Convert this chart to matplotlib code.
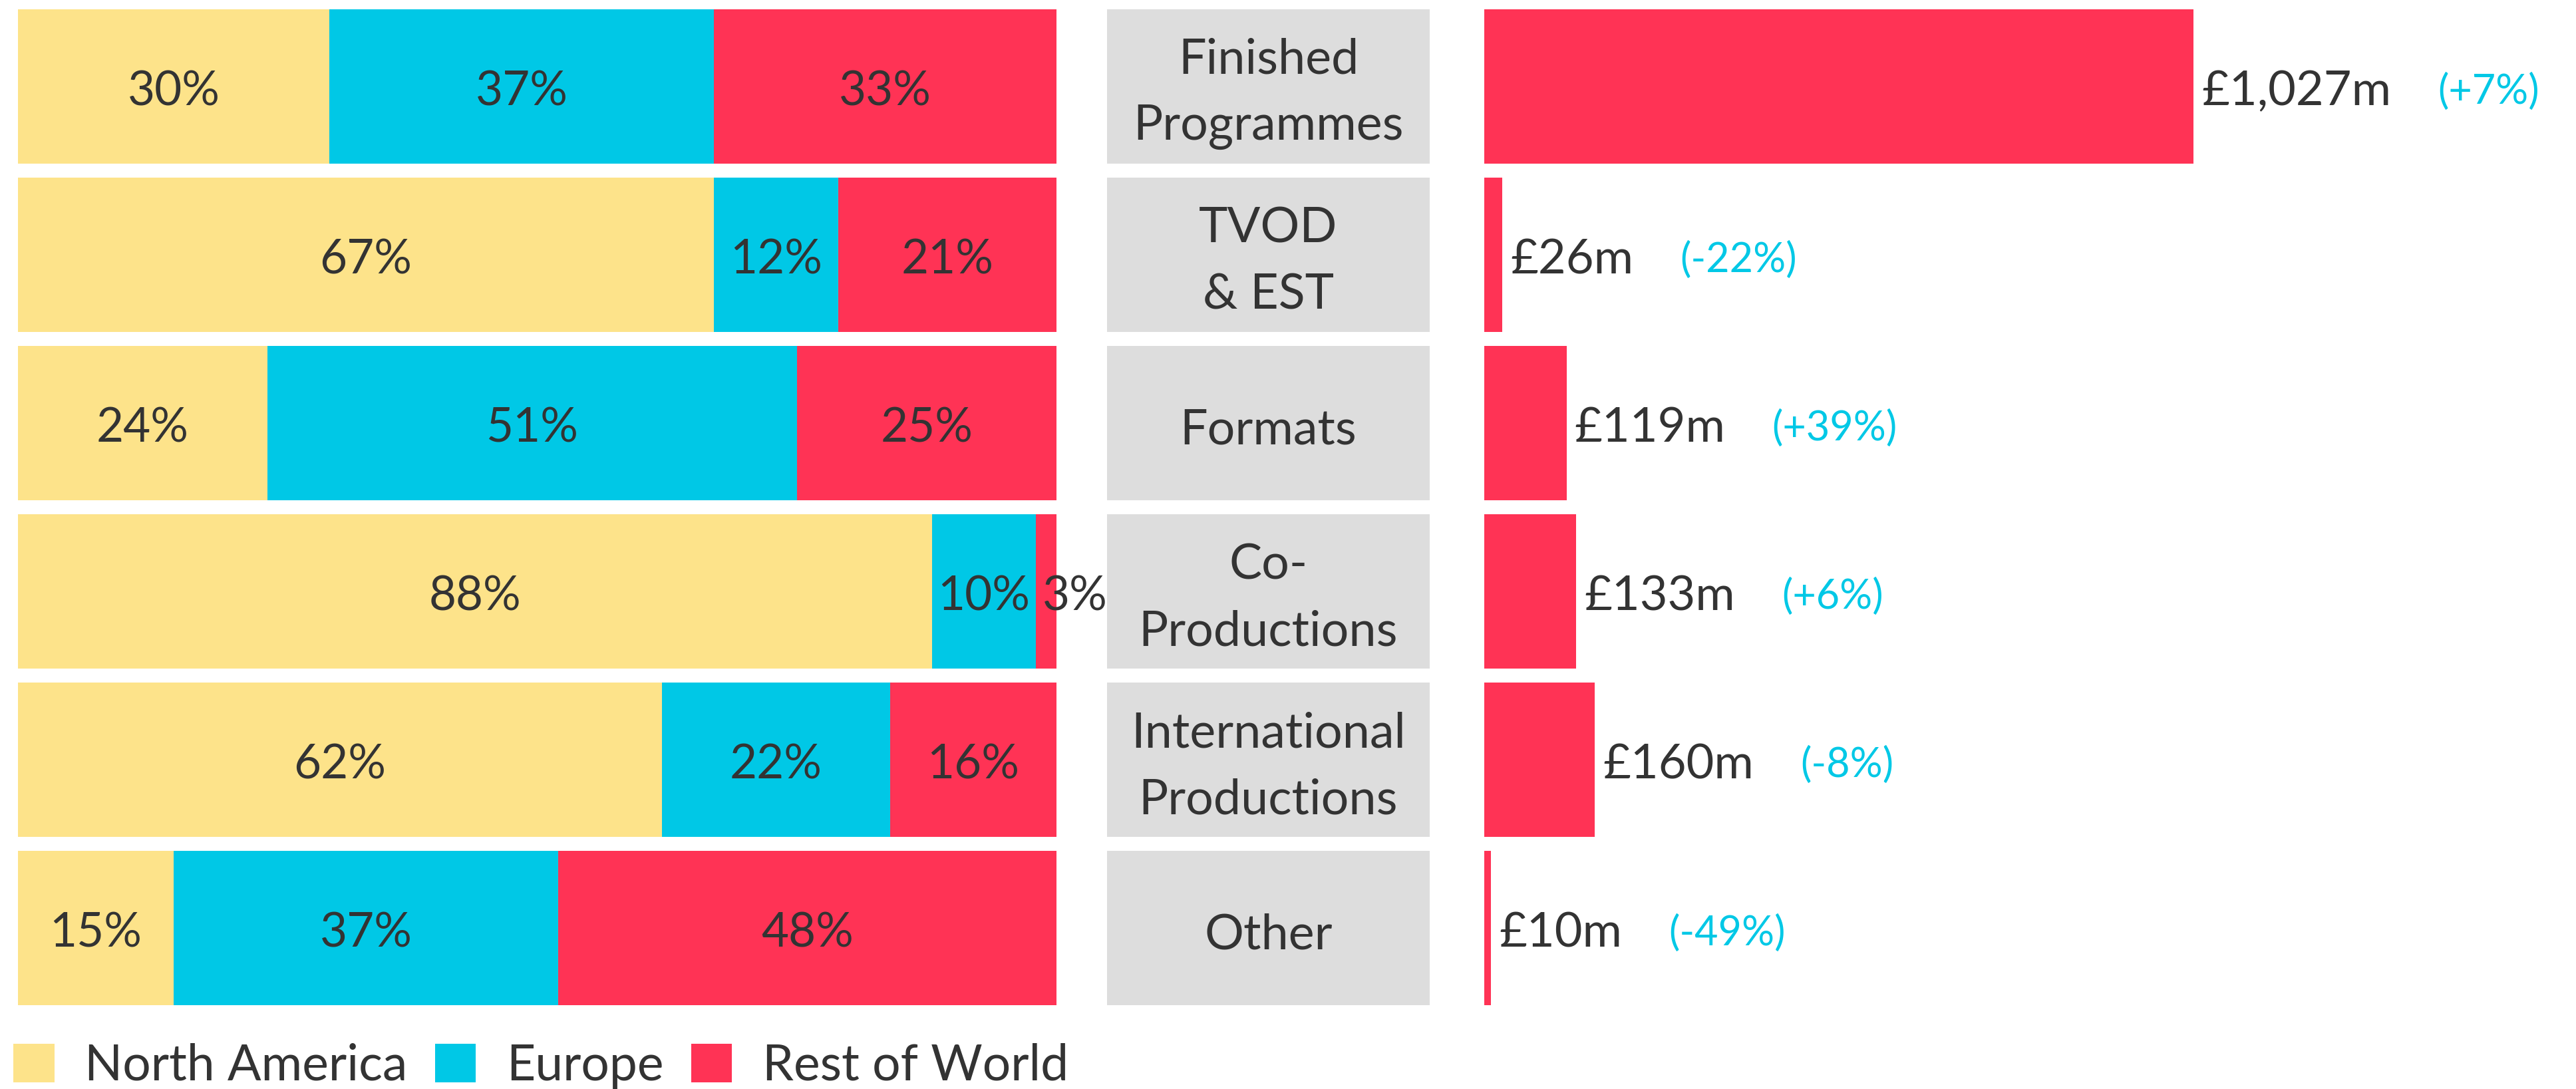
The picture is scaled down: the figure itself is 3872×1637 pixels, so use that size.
import matplotlib
matplotlib.use("Agg")
import matplotlib.pyplot as plt
from matplotlib.patches import Patch

plt.rcParams['font.family'] = ['Lato', 'DejaVu Sans']
plt.rcParams['font.weight'] = 'normal'

# data
categories = ["Finished\nProgrammes", "TVOD\n& EST", "Formats", "Co-\nProductions",
              "International\nProductions", "Other"]
north_america = [30, 67, 24, 88, 62, 15]
europe = [37, 12, 51, 10, 22, 37]
rest_of_world = [33, 21, 25, 3, 16, 48]
revenue = [1027, 26, 119, 133, 160, 10]
revenue_labels = ["£1,027m", "£26m", "£119m", "£133m", "£160m", "£10m"]
change_labels = ["(+7%)", "(-22%)", "(+39%)", "(+6%)", "(-8%)", "(-49%)"]
regions = ["North America", "Europe", "Rest of World"]

YELLOW = "#FDE38A"
CYAN = "#00C8E6"
RED = "#FF3355"
GREY = "#DDDDDD"
TEXT = "#333333"

W, H = 3872, 1637
fig = plt.figure(figsize=(W / 100, H / 100), dpi=100)


def px_axes(x0, x1, y0, y1):
    ax = fig.add_axes([x0 / W, 1 - y1 / H, (x1 - x0) / W, (y1 - y0) / H])
    ax.set_ylim(len(categories) - 0.5, -0.5)
    ax.axis("off")
    return ax


rows = range(len(categories))
bar_h = 0.917
y_top, y_bot = 3.5, 1521.5
dy = -8  # nudge labels down a little, like the reference

# left: regional split
ax_l = px_axes(27, 1588, y_top, y_bot)
ax_l.set_xlim(0, 100)
left = [0] * len(categories)
for vals, col in zip([north_america, europe, rest_of_world], [YELLOW, CYAN, RED]):
    ax_l.barh(rows, vals, left=left, height=bar_h, color=col, linewidth=0)
    for i, (v, l0) in enumerate(zip(vals, left)):
        if v < 5:
            ax_l.annotate(f"{v}%", xy=(l0, i), xytext=(10, dy), textcoords="offset pixels",
                          ha="left", va="center", fontsize=51, color=TEXT,
                          annotation_clip=False)
        else:
            ax_l.annotate(f"{v}%", xy=(l0 + v / 2, i), xytext=(0, dy),
                          textcoords="offset pixels", ha="center", va="center",
                          fontsize=51, color=TEXT)
    left = [a + b for a, b in zip(left, vals)]

# middle: category boxes
ax_m = px_axes(1664, 2149, y_top, y_bot)
ax_m.set_xlim(0, 1)
ax_m.barh(rows, [1] * len(categories), height=bar_h, color=GREY, linewidth=0)
for i, c in enumerate(categories):
    ax_m.annotate(c, xy=(0.5, i), xytext=(0, dy - 3), textcoords="offset pixels",
                  ha="center", va="center", fontsize=53, color=TEXT,
                  linespacing=1.6)

# right: revenue
ax_r = px_axes(2231, W, y_top, y_bot)
ax_r.set_xlim(0, (W - 2231) / 1.038)
ax_r.barh(rows, revenue, height=bar_h, color=RED, linewidth=0)
for i, (v, lab, chg) in enumerate(zip(revenue, revenue_labels, change_labels)):
    t = ax_r.annotate(lab, xy=(v, i), xytext=(12, dy), textcoords="offset pixels",
                      ha="left", va="center", fontsize=52, color=TEXT)
    ax_r.annotate(chg, xy=(1, 0.5), xycoords=t, xytext=(70, 0),
                  textcoords="offset pixels", ha="left", va="center",
                  fontsize=44, color=CYAN)

# legend
handles = [Patch(facecolor=c, edgecolor="none") for c in [YELLOW, CYAN, RED]]
fig.legend(handles, regions, loc="lower left", bbox_to_anchor=(20 / W, 0.0),
           ncol=3, frameon=False, fontsize=54, handlelength=0.82,
           handleheight=0.82, handletextpad=0.61, columnspacing=0.55,
           borderpad=0, borderaxespad=0, labelcolor=TEXT)

fig.savefig("out.png", dpi=100, facecolor="white")
